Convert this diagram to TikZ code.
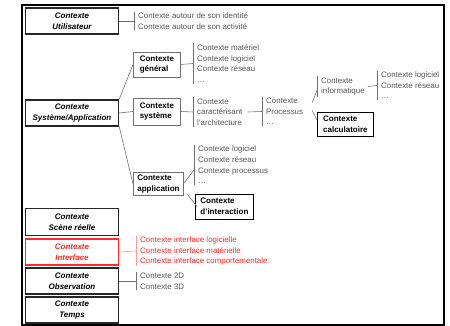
\documentclass[tikz,border=0pt]{standalone}
\usepackage{fontspec}
\setmainfont{Liberation Sans}
\usetikzlibrary{calc}
\definecolor{txtgray}{HTML}{555555}
\definecolor{linegray}{HTML}{707070}
\definecolor{ired}{HTML}{FF2A2A}
\definecolor{ipink}{HTML}{FF9A9A}
\tikzset{
  mainbox/.style={draw=black!85, line width=1.4pt, fill=white, minimum width=93pt, minimum height=26pt, align=center, inner sep=1pt, font=\fontsize{8}{10.6}\selectfont\bfseries\itshape},
  subbox/.style={draw=linegray, line width=0.8pt, fill=white, align=left, inner xsep=4pt, inner ysep=1pt, anchor=west, font=\fontsize{8}{10.6}\selectfont\bfseries},
  darkbox/.style={subbox, draw=black},
  itemlist/.style={anchor=west, align=left, inner xsep=4pt, inner ysep=1pt, text=txtgray, font=\fontsize{7.9}{10.6}\selectfont},
  conn/.style={draw=linegray, line width=0.6pt},
  pinkconn/.style={draw=ipink, line width=0.6pt},
}
\begin{document}
\begin{tikzpicture}[x=1pt,y=-1pt]
\useasboundingbox (0,0) rectangle (450,326);
\draw[line width=1.5pt] (22,5) rectangle (444,325);

% left column
\node[mainbox] (util) at (72,21) {Contexte\\Utilisateur};
\node[mainbox] (sysapp) at (72,113) {Contexte\\Système/Application};
\node[mainbox, minimum height=27pt] (scene) at (72,222) {Contexte\\Scène réelle};
\node[mainbox, draw=ired, text=ired] (inter) at (72,252) {Contexte\\Interface};
\node[mainbox] (obs) at (72,281) {Contexte\\Observation};
\node[mainbox] (temps) at (72,310) {Contexte\\Temps};

% utilisateur
\node[itemlist] (ulist) at (134,21) {Contexte autour de son identité\\Contexte autour de son activité};
\draw[conn] (ulist.north west) -- (ulist.south west);
\draw[conn] (util.east) -- (ulist.west);

% systeme / application children
\node[subbox, minimum width=47pt, minimum height=25pt] (gen) at (133,64.5) {Contexte\\général};
\node[subbox, minimum width=47pt, minimum height=27pt] (syst) at (133,111.5) {Contexte\\système};
\node[subbox, minimum width=50pt, minimum height=23pt] (app) at (133,184) {Contexte\\application};
\draw[conn] (sysapp.north east) -- (gen.west);
\draw[conn] (sysapp.east) -- (syst.west);
\draw[conn] (sysapp.south east) -- (app.west);

% general list
\node[itemlist] (glist) at (193,63.5) {Contexte matériel\\Contexte logiciel\\Contexte réseau\\\dots};
\draw[conn] (glist.north west) -- (glist.south west);
\draw[conn] (gen.east) -- (glist.west);

% systeme list
\node[itemlist] (slist) at (193,112) {Contexte\\caractérisant\\l'architecture};
\draw[conn] (slist.north west) -- (slist.south west);
\draw[conn] (syst.east) -- (slist.west);

% processus
\node[itemlist] (plist) at (262,111.5) {Contexte\\Processus\\\dots};
\draw[conn] (plist.north west) -- (plist.south west);
\draw[conn] ($(slist.east)+(1,0)$) -- (plist.west);

% informatique
\node[itemlist] (ilist) at (317,86.5) {Contexte\\informatique};
\draw[conn] (ilist.north west) -- (ilist.south west);
\draw[conn] ($(plist.east)+(5,-9)$) -- ($(ilist.west)+(0,4)$);

% calculatoire
\node[darkbox, minimum width=56pt, minimum height=24pt] (calc) at (317,124) {Contexte\\calculatoire};
\draw[conn] ($(plist.east)+(5,-1)$) -- ($(calc.west)+(0,-4)$);

% logiciel list
\node[itemlist] (llist) at (377,85.5) {Contexte logiciel\\Contexte réseau\\\dots};
\draw[conn] (llist.north west) -- (llist.south west);
\draw[conn] ($(ilist.east)+(-1,0)$) -- (llist.west);

% application list
\node[itemlist] (alist) at (194,165) {Contexte logiciel\\Contexte réseau\\Contexte processus\\\dots};
\draw[conn] (alist.north west) -- (alist.south west);
\draw[conn] ($(app.east)+(0,-1)$) -- ($(alist.west)+(0,5)$);

% interaction
\node[darkbox, minimum width=58pt, minimum height=25pt] (interac) at (195,206.5) {Contexte\\d'interaction};
\draw[conn] ($(app.south east)+(3,-2)$) -- ($(interac.west)+(2,0)$);

% interface list
\node[itemlist, text=ired] (iflist) at (136,251) {Contexte interface logicielle\\Contexte interface matérielle\\Contexte interface comportementale};
\draw[pinkconn] (iflist.north west) -- (iflist.south west);
\draw[pinkconn] (inter.east) -- (iflist.west);

% observation list
\node[itemlist] (olist) at (136,281) {Contexte 2D\\Contexte 3D};
\draw[conn] (olist.north west) -- (olist.south west);
\draw[conn] (obs.east) -- (olist.west);
\end{tikzpicture}
\end{document}
